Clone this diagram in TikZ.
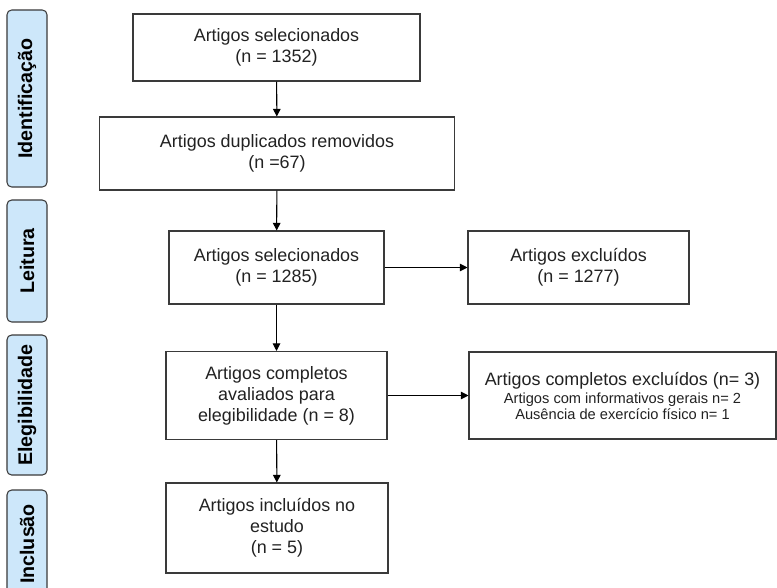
\documentclass[tikz,border=0pt]{standalone}
\usepackage{fontspec}
\setmainfont{Liberation Sans}
\usetikzlibrary{arrows.meta}
\definecolor{fasebg}{HTML}{CDE7FA}
\definecolor{linha}{HTML}{3A3A3A}
\definecolor{texto}{HTML}{222222}

\begin{document}
\begin{tikzpicture}[x=0.03cm, y=-0.03cm]
	\tikzstyle{caixa} = [draw=linha, line width=0.9pt, fill=white, inner sep=0pt, align=center, text=texto, font=\fontsize{15.3}{18}\selectfont]
	\tikzstyle{fase} = [draw=linha, line width=0.9pt, fill=fasebg, rounded corners=4pt, rotate=90, inner sep=0pt, minimum height=1.2cm, text=black, font=\bfseries\fontsize{16.8}{19}\selectfont]
	\tikzstyle{seta} = [draw=black, line width=0.9pt, -{Triangle[length=6.5pt, width=6.5pt]}]
	\useasboundingbox (0,0) rectangle (777,588);
	% fases
	\node[fase, minimum width=5.31cm] (id) at (27, 98.5) {Identificação};
	\node[fase, minimum width=3.66cm] (lei) at (27, 261) {Leitura};
	\node[fase, minimum width=4.2cm] (ele) at (27, 405) {Elegibilidade};
	\node[fase, minimum width=3.24cm] (inc) at (27, 544) {Inclusão};
	% caixas
	\node[caixa, minimum width=8.61cm, minimum height=2.01cm] (sel) at (276.5, 47.5) {Artigos selecionados\\(n = 1352)};
	\node[caixa, minimum width=10.65cm, minimum height=2.19cm] (dup) at (277, 153.5) {Artigos duplicados removidos\\(n =67)};
	\node[caixa, minimum width=6.45cm, minimum height=2.19cm] (sel2) at (276.5, 267.5) {Artigos selecionados\\(n = 1285)};
	\node[caixa, minimum width=6.63cm, minimum height=2.19cm] (exc) at (578.5, 267.5) {Artigos excluídos\\(n = 1277)};
	\node[caixa, minimum width=6.63cm, minimum height=2.64cm] (comp) at (276.5, 395.5) {Artigos completos\\avaliados para\\elegibilidade (n = 8)};
	\node[caixa, minimum width=9.21cm, minimum height=2.61cm, font=\fontsize{12.5}{13.5}\selectfont] (compexc) at (622.5, 395.5) {{\fontsize{15.3}{18}\selectfont Artigos completos excluídos (n= 3)}\\[2pt]Artigos com informativos gerais n= 2\\Ausência de exercício físico n= 1};
	\node[caixa, minimum width=6.66cm, minimum height=2.7cm] (incl) at (277, 528) {Artigos incluídos no\\estudo\\(n = 5)};
	% setas
	\draw[seta] (sel)--(dup);
	\draw[seta] (dup)--(sel2);
	\draw[seta] (sel2)--(exc);
	\draw[seta] (sel2)--(comp);
	\draw[seta] (comp)--(compexc);
	\draw[seta] (comp)--(incl);
\end{tikzpicture}
\end{document}
